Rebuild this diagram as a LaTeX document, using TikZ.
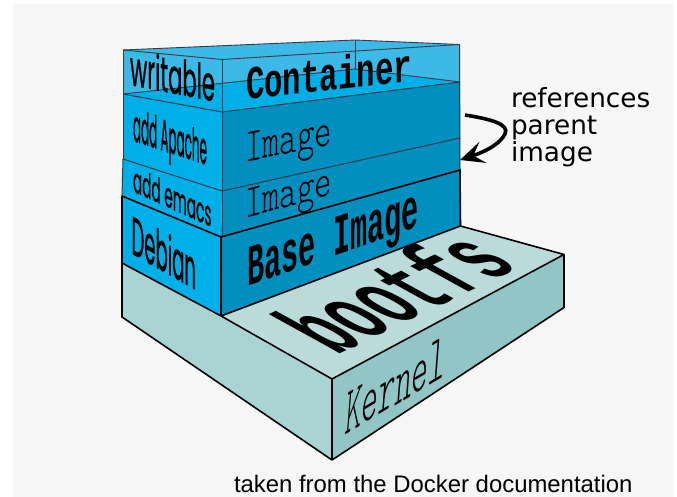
\documentclass[tikz,border=0pt]{standalone}
\usepackage{fontspec}
\setmainfont{Liberation Sans}
\newfontfamily\refsfont{DejaVu Sans}
\newfontfamily\handfont[FakeBold=0.9]{Poppins}
\newfontfamily\slabfont{Liberation Mono}
\newfontfamily\lightmono{Latin Modern Mono Light}
\usetikzlibrary{arrows.meta}
\definecolor{pagebg}{HTML}{F6F6F6}
\definecolor{glass}{HTML}{3DB9E8}
\definecolor{leftblue}{HTML}{00AFE8}
\definecolor{rightblue}{HTML}{008FBE}
\definecolor{edgegrey}{HTML}{333A40}
\definecolor{kernelleft}{HTML}{AAD3D3}
\definecolor{kerneltop}{HTML}{BBDBDB}
\definecolor{kernelright}{HTML}{92C6C6}
\tikzset{
  softedge/.style={draw=edgegrey,line width=1pt,line join=round},
  hardedge/.style={draw=black,line width=1.6pt,line join=round},
  thinedge/.style={draw=edgegrey,line width=.9pt,line join=round},
  warpnode/.style={inner sep=0pt,outer sep=0pt,anchor=base west,text=black},
  sidelabel/.style={inner sep=0pt,outer sep=0pt,anchor=base west,text=black,font=\refsfont\fontsize{26.3}{28}\selectfont}
}
\newsavebox\warpbox
\newdimen\warpdim
% name, baseline start x y, baseline end x y, up vector per font-pt (x,y up), text
\newcommand{\warped}[8]{%
  \setbox\warpbox=\hbox{\pgfinterruptpicture\normalfont\fontsize{10}{12}\selectfont #8\endpgfinterruptpicture}%
  \warpdim=\wd\warpbox
  \pgfmathsetmacro\warpW{\warpdim}%
  \pgfmathsetmacro\warpA{(#4-#2)/\warpW}%
  \pgfmathsetmacro\warpB{-(#5-#3)/\warpW}%
  \node[warpnode,transform shape,cm={\warpA,\warpB,#6,#7,(#2,#3)}] (#1) at (0,0) {\fontsize{10}{12}\selectfont #8};%
}
\begin{document}
\begin{tikzpicture}[x=1pt,y=-1pt]
\useasboundingbox (0,0) rectangle (677,497);
\fill[white] (0,0) rectangle (677,497);
\fill[pagebg] (13,4) rectangle (673,497);
% kernel
\fill[kernelleft] (122,263) -- (332,379) -- (332,460) -- (122,317) -- cycle;
\fill[kerneltop] (122,263) -- (221,316) -- (460.5,226) -- (564,254.5) -- (332,379) -- cycle;
\fill[kernelright] (332,379) -- (564,254.5) -- (564,307.5) -- (332,460) -- cycle;
\draw[hardedge] (122,263) -- (122,317) -- (332,460) -- (564,307.5) -- (564,254.5) -- (460.5,226);
\draw[hardedge] (221,316) -- (332,379) -- (564,254.5);
\draw[line width=1.2pt] (332,379) -- (332,460);
% base image
\fill[leftblue] (122,196) -- (221,237) -- (221,316) -- (122.5,263) -- cycle;
\fill[rightblue] (221,237) -- (460,170) -- (460.5,226) -- (221,316) -- cycle;
% emacs
\fill[leftblue] (123,159) -- (222,191) -- (221,237) -- (122,196) -- cycle;
\fill[rightblue] (222,191) -- (460,138) -- (460,170) -- (221,237) -- cycle;
% apache
\fill[leftblue] (123,94) -- (222,112) -- (222,191) -- (123,159) -- cycle;
\fill[rightblue] (222,112) -- (460,82) -- (460,138) -- (222,191) -- cycle;
% container
\fill[glass] (123,50) -- (355,40) -- (459.5,44.5) -- (460,82) -- (222,112) -- (123,94) -- cycle;
\fill[leftblue] (123,94) -- (355,69) -- (460,82) -- (222,112) -- cycle;
\draw[thinedge] (123,94) -- (355,69) -- (460,82);
\draw[thinedge] (355,40) -- (355,69);
\draw[thinedge] (123,50) -- (222,59.5) -- (459.5,44.5);
\draw[thinedge] (123,50) -- (355,40) -- (459.5,44.5);
\draw[thinedge] (222,59.5) -- (222,112);
\draw[softedge] (123,50) -- (123,159);
\draw[softedge] (459.5,44.5) -- (460,170);
\draw[softedge] (123,94) -- (222,112) -- (460,82);
\draw[softedge] (123,159) -- (222,191) -- (460,138);
\draw[softedge] (222,112) -- (222,237);
\draw[softedge] (123,159) -- (122,196);
% base image edges
\draw[hardedge] (122,196) -- (221,237) -- (460,170) -- (460.5,226) -- (221,316) -- (122,263) -- cycle;
\draw[hardedge] (221,237) -- (221,316);
% labels on left faces
\warped{writable}{130}{85}{215}{101.7}{0}{4.9}{\handfont writable}
\warped{addapache}{133}{141}{207}{165}{0}{4.5}{\handfont add Apache}
\warped{addemacs}{133}{191.5}{211.5}{227}{0}{3.5}{\handfont add emacs}
\warped{debian}{131.5}{253.5}{196}{290}{0}{5.4}{\handfont Debian}
% labels on right faces
\warped{container}{246}{100}{412}{81.5}{0}{4.7}{\slabfont\bfseries Container}
\warped{imgone}{245}{162.5}{332}{145}{0}{4.8}{\lightmono Image}
\warped{imgtwo}{245}{218.5}{332}{195}{0}{4.7}{\lightmono Image}
\warped{baseimg}{247.5}{286}{419}{226.5}{0}{5.8}{\slabfont\bfseries Base Image}
\warped{bootfs}{336}{355}{522}{267}{-9.8}{5.4}{\slabfont\bfseries bootfs}
\warped{kernel}{344}{435.5}{444}{376.5}{0}{6.6}{\lightmono\itshape Kernel}
% side text and arrow
\coordinate (arrowstart) at (465,115);
\coordinate (arrowend) at (460,160);
\draw[line width=3.6pt,-{Stealth[length=24pt,width=22pt,inset=10pt]}]
  (arrowstart) .. controls (490,119) and (510,124) .. (505,134) .. controls (501,142) and (490,150) .. (arrowend);
\node[sidelabel] (refs) at (511,108) {references};
\node[sidelabel] (parent) at (511,135) {parent};
\node[sidelabel] (image) at (511,162) {image};
\node[inner sep=0pt,outer sep=0pt,anchor=base west,font=\fontsize{23.9}{26}\selectfont] (caption) at (234,492) {taken from the Docker documentation};
\end{tikzpicture}
\end{document}
